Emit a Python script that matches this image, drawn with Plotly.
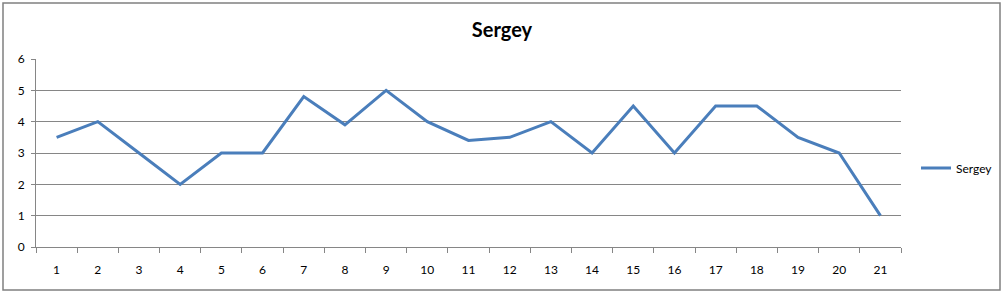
import plotly.graph_objects as go

categories = [str(i) for i in range(1, 22)]
sergey = [3.5, 4, 3, 2, 3, 3, 4.8, 3.9, 5, 4, 3.4, 3.5, 4, 3, 4.5, 3, 4.5, 4.5, 3.5, 3, 1]
y_ticks = [0, 1, 2, 3, 4, 5, 6]

FONT = "Lato"
GRID = "#868686"

fig = go.Figure()
fig.add_trace(go.Scatter(
    x=categories, y=sergey, mode="lines", name="Sergey",
    line=dict(color="#4A7EBB", width=3),
))

W, H = 1004, 295
L, R, T, B = 36, 103, 59, 48
pw, ph = W - L - R, H - T - B

fig.update_layout(
    width=W, height=H,
    margin=dict(l=L, r=R, t=T, b=B, autoexpand=False),
    paper_bgcolor="white", plot_bgcolor="white",
    font=dict(family=FONT, size=12, color="#000000"),
    title=dict(text="<b>Sergey</b>", x=(502 - L) / pw, xref="paper", xanchor="center",
               y=1 - 30 / H, yanchor="middle", font=dict(size=20, family=FONT)),
    showlegend=True,
    legend=dict(x=(916 - L) / pw, xanchor="left", y=(H - B - 168) / ph, yanchor="middle",
                font=dict(size=12, family=FONT), bgcolor="rgba(0,0,0,0)",
                itemwidth=30, tracegroupgap=0),
    xaxis=dict(type="category", range=[-0.5, 20.5], showgrid=False,
               showline=True, linecolor=GRID, linewidth=1,
               ticks="outside", tickson="boundaries", ticklen=5, tickcolor=GRID,
               ticklabelstandoff=12,
               tickfont=dict(size=12, family=FONT), fixedrange=True),
    yaxis=dict(range=[0, 6], tickvals=y_ticks, showgrid=True, gridcolor=GRID, gridwidth=1,
               showline=True, linecolor=GRID, linewidth=1, zeroline=False,
               ticks="outside", ticklen=4, tickcolor=GRID, ticklabelstandoff=4,
               tickfont=dict(size=12, family=FONT), fixedrange=True),
    shapes=[dict(type="rect", xref="paper", yref="paper",
                 x0=(3 - L) / pw, x1=(1000 - L) / pw,
                 y0=(H - B - 290) / ph, y1=(H - B - 3) / ph,
                 line=dict(color="#808080", width=1.5), fillcolor="rgba(0,0,0,0)", layer="below")],
)

fig.write_html("out.html")
